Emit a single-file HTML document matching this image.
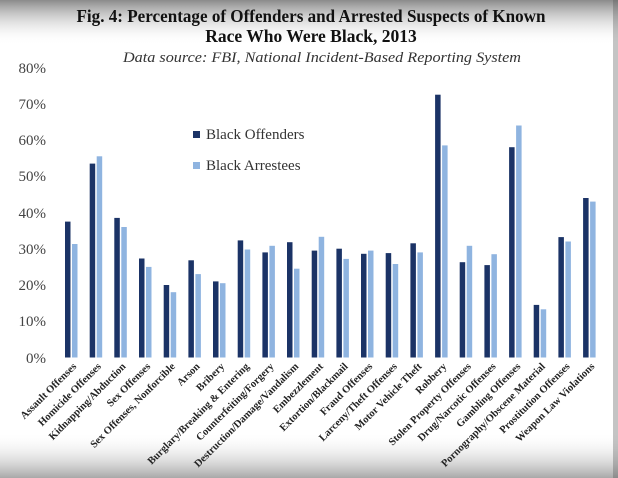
<!DOCTYPE html>
<html><head><meta charset="utf-8"><style>
html,body{margin:0;padding:0;width:618px;height:478px;overflow:hidden;background:#fff}
svg{display:block}
</style></head><body>
<svg width="618" height="478" viewBox="0 0 618 478" xmlns="http://www.w3.org/2000/svg">
<defs>
<linearGradient id="tg" x1="0" y1="0" x2="0" y2="1"><stop offset="0" stop-color="#8a8a8a"/><stop offset="1" stop-color="#ffffff" stop-opacity="0"/></linearGradient>
<linearGradient id="bg" x1="0" y1="0" x2="0" y2="1"><stop offset="0" stop-color="#ffffff" stop-opacity="0"/><stop offset="1" stop-color="#a8a8a8"/></linearGradient>
</defs>
<rect width="618" height="478" fill="#fff"/>
<rect width="618" height="45" fill="url(#tg)"/>
<rect y="432" width="618" height="46" fill="url(#bg)"/>
<rect x="613" y="0" width="5" height="478" fill="#555" opacity="0.35"/>
<g font-family="Liberation Serif, serif" text-anchor="middle">
<text x="311" y="22" font-size="17.5" font-weight="bold" fill="#111" textLength="469" lengthAdjust="spacingAndGlyphs">Fig. 4: Percentage of Offenders and Arrested Suspects of Known</text>
<text x="311" y="42" font-size="17.5" font-weight="bold" fill="#111">Race Who Were Black, 2013</text>
<text x="322" y="62" font-size="15" font-style="italic" fill="#333" textLength="398" lengthAdjust="spacingAndGlyphs">Data source: FBI, National Incident-Based Reporting System</text>
</g>
<g font-family="Liberation Serif, serif" font-size="15" fill="#444" text-anchor="end">
<text x="46" y="73">80%</text><text x="46" y="109">70%</text><text x="46" y="145">60%</text><text x="46" y="181">50%</text><text x="46" y="218">40%</text><text x="46" y="254">30%</text><text x="46" y="290">20%</text><text x="46" y="326">10%</text><text x="46" y="363">0%</text>
</g>
<g fill="#1b3366">
<rect x="65" y="221.6" width="5.5" height="135.9"/><rect x="89.7" y="163.6" width="5.5" height="193.9"/><rect x="114.3" y="217.9" width="5.5" height="139.6"/><rect x="139" y="258.5" width="5.5" height="99"/><rect x="163.7" y="285" width="5.5" height="72.5"/><rect x="188.4" y="260.3" width="5.5" height="97.2"/><rect x="213" y="281.4" width="5.5" height="76.1"/><rect x="237.7" y="240.4" width="5.5" height="117.1"/><rect x="262.4" y="252.4" width="5.5" height="105.1"/><rect x="287" y="242.2" width="5.5" height="115.3"/><rect x="311.7" y="250.6" width="5.5" height="106.9"/><rect x="336.4" y="248.7" width="5.5" height="108.8"/><rect x="361" y="253.8" width="5.5" height="103.7"/><rect x="385.7" y="253.1" width="5.5" height="104.4"/><rect x="410.4" y="243.3" width="5.5" height="114.2"/><rect x="435.1" y="94.7" width="5.5" height="262.8"/><rect x="459.7" y="262.2" width="5.5" height="95.3"/><rect x="484.4" y="265.1" width="5.5" height="92.4"/><rect x="509.1" y="147.2" width="5.5" height="210.3"/><rect x="533.7" y="304.9" width="5.5" height="52.6"/><rect x="558.4" y="237.1" width="5.5" height="120.4"/><rect x="583.1" y="198" width="5.5" height="159.5"/>
<rect x="193" y="131" width="7" height="7"/>
</g>
<g fill="#8fb4e0">
<rect x="72" y="244" width="5.5" height="113.5"/><rect x="96.7" y="156.3" width="5.5" height="201.2"/><rect x="121.3" y="227" width="5.5" height="130.5"/><rect x="146" y="266.9" width="5.5" height="90.6"/><rect x="170.7" y="292.2" width="5.5" height="65.3"/><rect x="195.4" y="274.1" width="5.5" height="83.4"/><rect x="220" y="283.2" width="5.5" height="74.3"/><rect x="244.7" y="249.5" width="5.5" height="108"/><rect x="269.4" y="245.8" width="5.5" height="111.7"/><rect x="294" y="268.7" width="5.5" height="88.8"/><rect x="318.7" y="236.8" width="5.5" height="120.7"/><rect x="343.4" y="258.9" width="5.5" height="98.6"/><rect x="368" y="250.6" width="5.5" height="106.9"/><rect x="392.7" y="264" width="5.5" height="93.5"/><rect x="417.4" y="252.4" width="5.5" height="105.1"/><rect x="442.1" y="145.4" width="5.5" height="212.1"/><rect x="466.7" y="245.8" width="5.5" height="111.7"/><rect x="491.4" y="254.2" width="5.5" height="103.3"/><rect x="516.1" y="125.5" width="5.5" height="232"/><rect x="540.7" y="309.3" width="5.5" height="48.2"/><rect x="565.4" y="241.5" width="5.5" height="116"/><rect x="590.1" y="201.6" width="5.5" height="155.9"/>
<rect x="193" y="162" width="7" height="7"/>
</g>
<g font-family="Liberation Serif, serif" font-size="15" fill="#333">
<text x="206" y="139">Black Offenders</text>
<text x="206" y="170">Black Arrestees</text>
</g>
<g font-family="Liberation Serif, serif" font-size="10.5" font-weight="bold" fill="#222" text-anchor="end">
<text transform="translate(77,367) rotate(-45)">Assault Offenses</text>
<text transform="translate(101.7,367) rotate(-45)">Homicide Offenses</text>
<text transform="translate(126.3,367) rotate(-45)">Kidnapping/Abduction</text>
<text transform="translate(151,367) rotate(-45)">Sex Offenses</text>
<text transform="translate(175.7,367) rotate(-45)">Sex Offenses, Nonforcible</text>
<text transform="translate(200.4,367) rotate(-45)">Arson</text>
<text transform="translate(225,367) rotate(-45)">Bribery</text>
<text transform="translate(249.7,367) rotate(-45)">Burglary/Breaking &amp; Entering</text>
<text transform="translate(274.4,367) rotate(-45)">Counterfeiting/Forgery</text>
<text transform="translate(299,367) rotate(-45)">Destruction/Damage/Vandalism</text>
<text transform="translate(323.7,367) rotate(-45)">Embezzlement</text>
<text transform="translate(348.4,367) rotate(-45)">Extortion/Blackmail</text>
<text transform="translate(373,367) rotate(-45)">Fraud Offenses</text>
<text transform="translate(397.7,367) rotate(-45)">Larceny/Theft Offenses</text>
<text transform="translate(422.4,367) rotate(-45)">Motor Vehicle Theft</text>
<text transform="translate(447.1,367) rotate(-45)">Robbery</text>
<text transform="translate(471.7,367) rotate(-45)">Stolen Property Offenses</text>
<text transform="translate(496.4,367) rotate(-45)">Drug/Narcotic Offenses</text>
<text transform="translate(521.1,367) rotate(-45)">Gambling Offenses</text>
<text transform="translate(545.7,367) rotate(-45)">Pornography/Obscene Material</text>
<text transform="translate(570.4,367) rotate(-45)">Prostitution Offenses</text>
<text transform="translate(595.1,367) rotate(-45)">Weapon Law Violations</text>
</g>
</svg>
</body></html>
